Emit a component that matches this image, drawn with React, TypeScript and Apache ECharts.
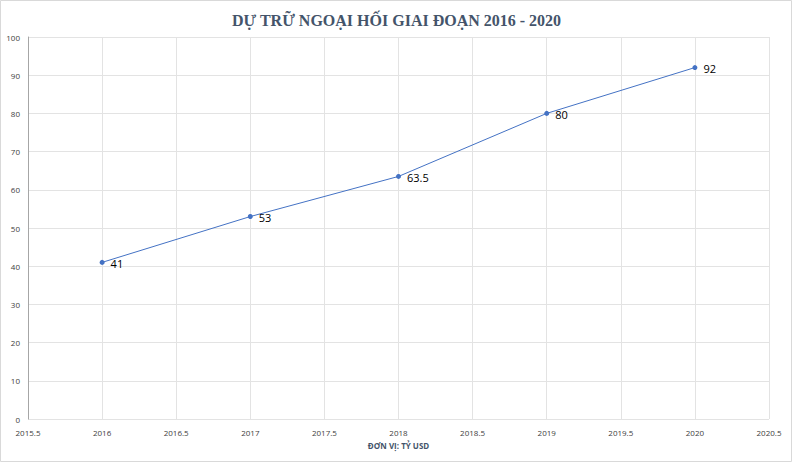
import React, { useEffect, useRef } from "react";
import * as echarts from "echarts";

const years = [2016, 2017, 2018, 2019, 2020];
const reserves = [41, 53, 63.5, 80, 92];
const titleText = "DỰ TRỮ NGOẠI HỐI GIAI ĐOẠN 2016 - 2020";
const xAxisTitle = "ĐƠN VỊ: TỶ USD";

export default function App() {
  const ref = useRef<HTMLDivElement>(null);
  useEffect(() => {
    if (!ref.current) return;
    const chart = echarts.init(ref.current, undefined, { renderer: "svg" });
    chart.setOption({
      animation: false,
      backgroundColor: "#ffffff",
      title: {
        text: titleText,
        left: "center",
        top: 7,
        textStyle: {
          fontFamily: "Liberation Serif",
          fontWeight: "bold",
          fontSize: 16,
          color: "#44546A",
        },
      },
      graphic: [
        {
          type: "rect",
          shape: { x: 0.5, y: 0.5, width: 791, height: 461 },
          style: { fill: "none", stroke: "#d9d9d9", lineWidth: 1 },
          silent: true,
        },
      ],
      grid: { left: 28, right: 24, top: 37, bottom: 44 },
      xAxis: {
        type: "value",
        min: 2015.5,
        max: 2020.5,
        interval: 0.5,
        name: xAxisTitle,
        nameLocation: "middle",
        nameGap: 22,
        nameTextStyle: {
          fontFamily: "Open Sans",
          fontWeight: "bold",
          fontSize: 8,
          color: "#44546A",
        },
        axisLine: { show: false },
        axisTick: { show: false },
        axisLabel: {
          fontFamily: "Open Sans",
          fontSize: 8,
          color: "#404040",
          margin: 9,
          formatter: (v: number) => String(v),
        },
        splitLine: { show: true, lineStyle: { color: "#e3e3e3", width: 1 } },
      },
      yAxis: {
        type: "value",
        min: 0,
        max: 100,
        interval: 10,
        axisLine: { show: true, lineStyle: { color: "#a6a6a6", width: 1 } },
        axisTick: { show: false },
        axisLabel: {
          fontFamily: "Open Sans",
          fontSize: 8,
          color: "#404040",
          margin: 8,
        },
        splitLine: { show: true, lineStyle: { color: "#e3e3e3", width: 1 } },
      },
      series: [
        {
          type: "line",
          data: years.map((y, i) => [y, reserves[i]]),
          symbol: "circle",
          symbolSize: 5,
          lineStyle: { color: "#4472C4", width: 1 },
          itemStyle: { color: "#4472C4" },
          label: {
            show: true,
            position: "right",
            distance: 6,
            offset: [0, 1],
            fontFamily: "Open Sans",
            fontSize: 11,
            color: "#000000",
            formatter: (p: any) => String(p.value[1]),
          },
        },
      ],
    });
    return () => chart.dispose();
  }, []);
  return (
    <div
      ref={ref}
      style={{ position: "absolute", left: 0, top: 0, width: 793, height: 463 }}
    />
  );
}
